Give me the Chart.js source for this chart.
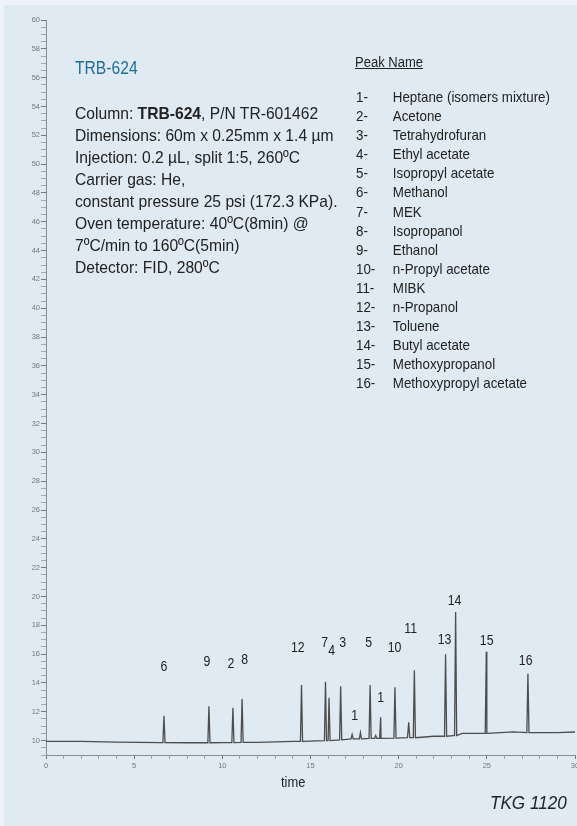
<!DOCTYPE html>
<html>
<head>
<meta charset="utf-8">
<script src="https://cdn.jsdelivr.net/npm/chart.js@4.4.1/dist/chart.umd.min.js"></script>
<style>
  html, body { margin: 0; padding: 0; }
  body {
    width: 577px; height: 826px; overflow: hidden; position: relative;
    background: #edf3f8;
    font-family: "Liberation Sans", Arial, sans-serif;
    color: #222;
  }
  .panel { position: absolute; left: 4px; top: 5px; width: 580px; height: 830px; background: #dfeaf2; }
  .chart-box { position: absolute; left: 0; top: 0; width: 590px; height: 790px; }
  /* sem fonte condensada: comprimir na horizontal */
  .txt { position: absolute; white-space: nowrap; transform-origin: 0 0; }
  .title { left: 75px; top: 58px; font-size: 18px; color: #1f6d99; transform: scaleX(0.87); }
  .cond { left: 75px; top: 103px; font-size: 17px; line-height: 22px; transform: scaleX(0.92); }
  .peak-head { left: 355px; top: 54px; font-size: 14px; text-decoration: underline; transform: scaleX(0.93); }
  .peak-list { left: 356px; top: 88px; font-size: 14.5px; line-height: 19.1px; transform: scaleX(0.92); }
  .peak-list span { display: inline-block; width: 40px; }
  .xtitle { left: 281px; top: 774px; font-size: 14px; transform: scaleX(0.92); }
  .code { left: 490px; top: 792px; font-size: 19px; font-style: italic; transform: scaleX(0.9); }
</style>
</head>
<body>
<div class="panel"></div>
<div class="chart-box"><canvas id="chrom" width="590" height="790"></canvas></div>

<div class="txt title">TRB-624</div>
<div class="txt cond">
  Column: <b>TRB-624</b>, P/N TR-601462<br>
  Dimensions: 60m x 0.25mm x 1.4 µm<br>
  Injection: 0.2 µL, split 1:5, 260ºC<br>
  Carrier gas: He,<br>
  constant pressure 25 psi (172.3 KPa).<br>
  Oven temperature: 40ºC(8min) @<br>
  7ºC/min to 160ºC(5min)<br>
  Detector: FID, 280ºC
</div>
<div class="txt peak-head">Peak Name</div>
<div class="txt peak-list" id="peakList"></div>
<div class="txt xtitle">time</div>
<div class="txt code">TKG 1120</div>

<script>
// Nomes dos picos (legenda)
const peakNames = [
  "Heptane (isomers mixture)", "Acetone", "Tetrahydrofuran", "Ethyl acetate",
  "Isopropyl acetate", "Methanol", "MEK", "Isopropanol", "Ethanol",
  "n-Propyl acetate", "MIBK", "n-Propanol", "Toluene", "Butyl acetate",
  "Methoxypropanol", "Methoxypropyl acetate"
];

// Linha de base do cromatograma (tempo em min, sinal)
const baseTimes = [0, 2, 4, 6.5, 8, 10, 12, 14, 16, 17.5, 19, 20.5, 22, 23.1, 23.6, 25, 26.5, 27.5, 29, 30.1];
const baseLevels = [9.95, 9.95, 9.9, 9.86, 9.85, 9.86, 9.88, 9.95, 10.02, 10.12, 10.15, 10.2, 10.3, 10.35, 10.5, 10.5, 10.6, 10.55, 10.55, 10.6];

// Picos: tempo de retenção, topo e base
const peakTimes = [6.69, 9.24, 10.60, 11.12, 14.49, 15.85, 16.05, 16.71, 17.36, 17.83, 18.38, 18.70, 18.98, 19.79, 20.57, 20.89, 22.66, 23.23, 24.97, 27.33];
const peakTops  = [11.73, 12.38, 12.27, 12.89, 13.86, 14.08, 12.98, 13.77, 10.42, 10.55, 13.86, 10.35, 11.62, 13.70, 11.27, 14.88, 15.99, 18.92, 16.16, 14.63];
const peakBases = [9.86, 9.85, 9.86, 9.87, 9.95, 10.0, 10.0, 10.05, 10.12, 10.12, 10.15, 10.15, 10.15, 10.17, 10.2, 10.2, 10.3, 10.35, 10.5, 10.55];
const peakHalfWidth = 0.06;

// Rótulos numéricos dos picos
const labelTexts  = ["6", "9", "2", "8", "12", "7", "4", "3", "1", "5", "1", "10", "11", "13", "14", "15", "16"];
const labelTimes  = [6.69, 9.12, 10.48, 11.27, 14.28, 15.81, 16.2, 16.83, 17.51, 18.3, 18.98, 19.77, 20.68, 22.6, 23.17, 24.99, 27.2];
const labelLevels = [15.13, 15.48, 15.34, 15.62, 16.45, 16.8, 16.24, 16.8, 11.73, 16.8, 12.98, 16.45, 17.77, 17.0, 19.71, 16.93, 15.55];

// Eixos
const xMin = 0, xMax = 30, xStep = 1, xLabelEvery = 5;
const yMin = 9, yMax = 60, yStep = 0.5, yLabelEvery = 2;

document.getElementById("peakList").innerHTML = peakNames
  .map((n, i) => `<span>${i + 1}-</span>${n}`)
  .join("<br>");

// Montar o traço: linha de base + triângulos dos picos
const trace = baseTimes.map((t, i) => ({ x: t, y: baseLevels[i] }));
peakTimes.forEach((t, i) => {
  trace.push({ x: t - peakHalfWidth, y: peakBases[i] });
  trace.push({ x: t, y: peakTops[i] });
  trace.push({ x: t + peakHalfWidth, y: peakBases[i] });
});
trace.sort((a, b) => a.x - b.x);

const peakLabelPlugin = {
  id: "peakLabels",
  afterDatasetsDraw(chart) {
    const { ctx, scales } = chart;
    const squeeze = 0.82;
    ctx.save();
    ctx.font = '15px "Liberation Sans", Arial';
    ctx.fillStyle = "#222";
    ctx.textAlign = "center";
    ctx.textBaseline = "middle";
    labelTexts.forEach((txt, i) => {
      const px = scales.x.getPixelForValue(labelTimes[i]);
      const py = scales.y.getPixelForValue(labelLevels[i]);
      ctx.save();
      ctx.translate(px, py);
      ctx.scale(squeeze, 1);
      ctx.fillText(txt, 0, 0);
      ctx.restore();
    });
    ctx.restore();
  }
};

const tickFont = { family: '"Liberation Sans", Arial', size: 7.5 };

new Chart(document.getElementById("chrom").getContext("2d"), {
  type: "line",
  data: {
    datasets: [{
      data: trace,
      borderColor: "#4d4d4d",
      borderWidth: 1.3,
      pointRadius: 0,
      tension: 0,
      fill: false
    }]
  },
  options: {
    responsive: false,
    animation: false,
    layout: { padding: { top: 20, right: 15, left: 0, bottom: 0 } },
    plugins: { legend: { display: false }, tooltip: { enabled: false } },
    scales: {
      x: {
        type: "linear",
        min: xMin,
        max: xMax,
        offset: false,
        afterFit: (s) => { s.height = 35; },
        border: { display: true, color: "#8c8c8c", width: 1 },
        grid: {
          drawOnChartArea: false,
          drawTicks: true,
          tickLength: 4,
          color: (c) => (c.tick && c.tick.value % xLabelEvery === 0 ? "#777" : "#a0a0a0")
        },
        ticks: {
          stepSize: xStep,
          autoSkip: false,
          maxRotation: 0,
          padding: 2,
          color: "#777",
          font: tickFont,
          callback: (v) => (v % xLabelEvery === 0 ? v : "")
        }
      },
      y: {
        min: yMin,
        max: yMax,
        afterFit: (s) => { s.width = 46; },
        border: { display: true, color: "#8c8c8c", width: 1 },
        grid: {
          drawOnChartArea: false,
          drawTicks: true,
          tickLength: 5,
          color: (c) => (c.tick && c.tick.value % yLabelEvery === 0 ? "#777" : "#a8a8a8")
        },
        ticks: {
          stepSize: yStep,
          autoSkip: false,
          padding: 1,
          color: "#777",
          font: tickFont,
          callback: (v) => (v % yLabelEvery === 0 ? v : "")
        }
      }
    }
  },
  plugins: [peakLabelPlugin]
});
</script>
</body>
</html>
